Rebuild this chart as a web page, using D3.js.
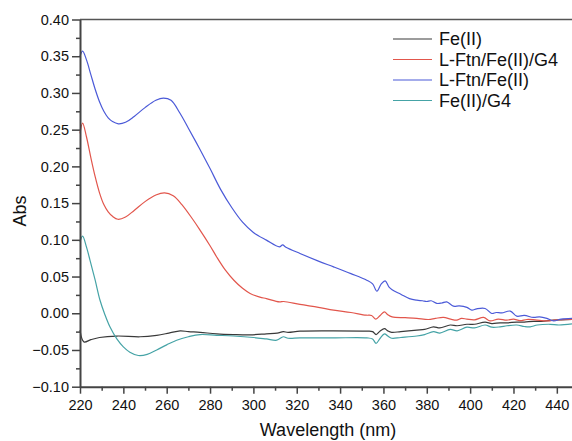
<!DOCTYPE html>
<html>
<head>
<meta charset="utf-8">
<script src="https://cdn.jsdelivr.net/npm/d3@7"></script>
<style>
  html, body { margin: 0; padding: 0; background: #fff; }
  svg { display: block; font-family: "Liberation Sans", Arial, sans-serif; }
</style>
</head>
<body>
<svg id="chart" width="572" height="441"></svg>
<script>
// ---- Data ----
const seriesNames = ["Fe(II)", "L-Ftn/Fe(II)/G4", "L-Ftn/Fe(II)", "Fe(II)/G4"];
const seriesColors = ["#3a3a3a", "#e2564c", "#4b5ad8", "#45a3a6"];

const xTickValues = [220, 240, 260, 280, 300, 320, 340, 360, 380, 400, 420, 440];
const yTickValues = [-0.10, -0.05, 0.00, 0.05, 0.10, 0.15, 0.20, 0.25, 0.30, 0.35, 0.40];

const fe2_wl  = [220, 221.8, 225, 229, 237, 247.7, 255.4, 261, 266.2, 270, 275.4, 283, 290.8, 298.5, 306, 311, 313.8, 316, 321.5, 337, 352.3, 355, 356.6, 358.5, 360.5, 362, 363.8, 368, 375.4, 379, 383.1, 386, 390.8, 394, 398.5, 402, 406.9, 410, 413.8, 417, 421.5, 425, 429.2, 433, 438.5, 442, 447];
const fe2_abs = [-0.023, -0.039, -0.036, -0.033, -0.031, -0.032, -0.030, -0.027, -0.024, -0.025, -0.026, -0.028, -0.029, -0.0294, -0.028, -0.027, -0.025, -0.026, -0.0244, -0.024, -0.0244, -0.025, -0.029, -0.024, -0.021, -0.024, -0.026, -0.025, -0.023, -0.022, -0.0185, -0.020, -0.016, -0.017, -0.015, -0.015, -0.012, -0.014, -0.013, -0.013, -0.012, -0.012, -0.011, -0.011, -0.0094, -0.009, -0.0085];

const ftnFeG4_wl  = [220, 221.2, 223, 225, 227, 229, 231, 233, 235, 237.5, 241, 245, 250, 255, 259, 263, 267, 272, 275, 280, 283, 287, 291, 295, 298.5, 303, 306, 312, 314, 321.5, 330, 337, 345, 352, 354.5, 356.5, 358.5, 360.5, 362, 364, 370, 375.4, 380.8, 384, 387.7, 391, 393.8, 396, 398.5, 402, 406.2, 409.2, 413, 416.9, 420, 423, 426.2, 430, 435.4, 440, 447];
const ftnFeG4_abs = [0.245, 0.259, 0.240, 0.212, 0.186, 0.164, 0.148, 0.138, 0.132, 0.128, 0.131, 0.140, 0.152, 0.161, 0.164, 0.160, 0.148, 0.128, 0.115, 0.092, 0.077, 0.059, 0.045, 0.034, 0.027, 0.022, 0.020, 0.0155, 0.016, 0.012, 0.008, 0.0042, 0.001, -0.0026, -0.003, -0.008, -0.003, 0.002, -0.002, -0.005, -0.006, -0.007, -0.0085, -0.007, -0.0057, -0.008, -0.0094, -0.007, -0.008, -0.009, -0.0057, -0.0104, -0.008, -0.0094, -0.008, -0.010, -0.0085, -0.009, -0.0104, -0.009, -0.0085];

const ftnFe_wl  = [220, 221.2, 223, 225, 227, 229, 231, 233, 235, 237.7, 241, 245, 250, 255, 258.5, 262, 266, 270, 275, 280, 285, 290, 295, 300, 306, 312, 313.5, 315, 321.5, 330, 337, 345, 352.3, 355, 357, 359, 360.8, 362.5, 364, 368, 372, 375.4, 378, 380, 382, 384.6, 387, 389.2, 392.3, 395, 398.5, 400.8, 403, 406.9, 410, 412, 414.6, 418.5, 421.5, 425, 429.2, 432, 435.4, 438.5, 442, 447];
const ftnFe_abs = [0.350, 0.357, 0.345, 0.325, 0.305, 0.288, 0.275, 0.266, 0.261, 0.258, 0.260, 0.268, 0.280, 0.290, 0.293, 0.290, 0.273, 0.252, 0.225, 0.197, 0.168, 0.144, 0.124, 0.110, 0.0996, 0.0905, 0.093, 0.090, 0.0814, 0.071, 0.0632, 0.054, 0.045, 0.040, 0.030, 0.040, 0.044, 0.036, 0.032, 0.026, 0.020, 0.0178, 0.017, 0.016, 0.017, 0.0134, 0.014, 0.0155, 0.0097, 0.010, 0.008, 0.0042, 0.006, 0.0065, -0.0003, 0.001, 0.0005, 0.003, -0.004, -0.003, -0.0057, -0.005, -0.007, -0.0104, -0.008, -0.007];

const feG4_wl  = [220, 221.2, 223, 224.6, 227, 229.2, 231.5, 233.8, 237, 240, 243, 246.9, 251, 255.4, 260, 264.6, 270, 275.4, 283, 290.8, 300, 306, 310.8, 313.8, 316, 321.5, 336.9, 352.3, 355, 356.6, 358.5, 360.5, 362, 363.8, 368, 375.4, 379, 383.1, 386, 390.8, 394, 398.5, 402, 406.9, 410, 413.8, 417, 421.5, 425, 427.7, 431, 436.9, 441, 447];
const feG4_abs = [0.097, 0.105, 0.090, 0.0724, 0.045, 0.018, -0.002, -0.0185, -0.035, -0.0458, -0.053, -0.0575, -0.056, -0.050, -0.043, -0.0367, -0.032, -0.029, -0.030, -0.031, -0.033, -0.035, -0.0367, -0.032, -0.034, -0.0335, -0.0335, -0.0335, -0.035, -0.041, -0.034, -0.028, -0.031, -0.034, -0.033, -0.031, -0.029, -0.025, -0.027, -0.022, -0.024, -0.019, -0.020, -0.016, -0.019, -0.0185, -0.017, -0.016, -0.018, -0.0185, -0.016, -0.015, -0.016, -0.0145];

const seriesWl  = [fe2_wl, ftnFeG4_wl, ftnFe_wl, feG4_wl];
const seriesAbs = [fe2_abs, ftnFeG4_abs, ftnFe_abs, feG4_abs];

// ---- Layout ----
const svg = d3.select("#chart");
const plotLeft = 80, plotRight = 572, plotTop = 19.5, plotBottom = 386.7;

const x = d3.scaleLinear().domain([220, 447]).range([plotLeft, plotRight]);
const y = d3.scaleLinear().domain([-0.10, 0.40]).range([plotBottom, plotTop]);

const axisColor = "#444";
const tickFont = "'Liberation Sans', Arial, sans-serif";

// Lines
const line = d3.line()
  .x(d => x(d[0]))
  .y(d => y(d[1]))
  .curve(d3.curveCatmullRom.alpha(0.5));

const plot = svg.append("g");
seriesNames.forEach((name, i) => {
  const pts = seriesWl[i].map((w, k) => [w, seriesAbs[i][k]]);
  plot.append("path")
    .datum(pts)
    .attr("fill", "none")
    .attr("stroke", seriesColors[i])
    .attr("stroke-width", 1.2)
    .attr("stroke-linejoin", "round")
    .attr("d", line);
});

// Top frame line
svg.append("line")
  .attr("x1", plotLeft).attr("x2", plotRight)
  .attr("y1", plotTop).attr("y2", plotTop)
  .attr("stroke", "#555").attr("stroke-width", 1.5);

// X axis - minor ticks
const xMinor = d3.range(230, 447, 20);
svg.append("g")
  .attr("transform", `translate(0,${plotBottom})`)
  .call(d3.axisBottom(x).tickValues(xMinor).tickSize(4).tickSizeOuter(0).tickFormat(""))
  .call(g => g.select(".domain").remove())
  .call(g => g.selectAll(".tick line").attr("stroke", axisColor).attr("stroke-width", 1.5));

// X axis - major
svg.append("g")
  .attr("transform", `translate(0,${plotBottom})`)
  .call(d3.axisBottom(x).tickValues(xTickValues).tickSize(7).tickSizeOuter(0).tickPadding(6).tickFormat(d3.format("d")))
  .call(g => g.select(".domain").attr("stroke", axisColor).attr("stroke-width", 2))
  .call(g => g.selectAll(".tick line").attr("stroke", axisColor).attr("stroke-width", 1.5))
  .call(g => g.selectAll(".tick text").attr("fill", "#111").style("font-size", "14.5px").style("font-family", tickFont));

// Y axis - minor
const yMinor = d3.range(-0.075, 0.40, 0.05);
svg.append("g")
  .attr("transform", `translate(${plotLeft},0)`)
  .call(d3.axisLeft(y).tickValues(yMinor).tickSize(4).tickSizeOuter(0).tickFormat(""))
  .call(g => g.select(".domain").remove())
  .call(g => g.selectAll(".tick line").attr("stroke", axisColor).attr("stroke-width", 1.5));

// Y axis - major
svg.append("g")
  .attr("transform", `translate(${plotLeft},0)`)
  .call(d3.axisLeft(y).tickValues(yTickValues).tickSize(8).tickSizeOuter(0).tickPadding(3).tickFormat(d3.format(".2f")))
  .call(g => g.select(".domain").attr("stroke", axisColor).attr("stroke-width", 2))
  .call(g => g.selectAll(".tick line").attr("stroke", axisColor).attr("stroke-width", 1.5))
  .call(g => g.selectAll(".tick text").attr("fill", "#111").style("font-size", "14.5px").style("font-family", tickFont));

// Axis titles
svg.append("text")
  .attr("x", 328).attr("y", 436)
  .attr("text-anchor", "middle")
  .attr("fill", "#111")
  .style("font-size", "18px")
  .text("Wavelength (nm)");

svg.append("text")
  .attr("transform", "translate(26,211) rotate(-90)")
  .attr("text-anchor", "middle")
  .attr("fill", "#111")
  .style("font-size", "18px")
  .text("Abs");

// Legend
const legendY = [39, 59.5, 80, 100.5];
const legend = svg.append("g");
seriesNames.forEach((name, i) => {
  legend.append("line")
    .attr("x1", 393).attr("x2", 432)
    .attr("y1", legendY[i]).attr("y2", legendY[i])
    .attr("stroke", seriesColors[i]).attr("stroke-width", 1.2);
  legend.append("text")
    .attr("x", 439).attr("y", legendY[i])
    .attr("dy", "0.36em")
    .attr("fill", "#111")
    .style("font-size", "18px")
    .text(name);
});
</script>
</body>
</html>
